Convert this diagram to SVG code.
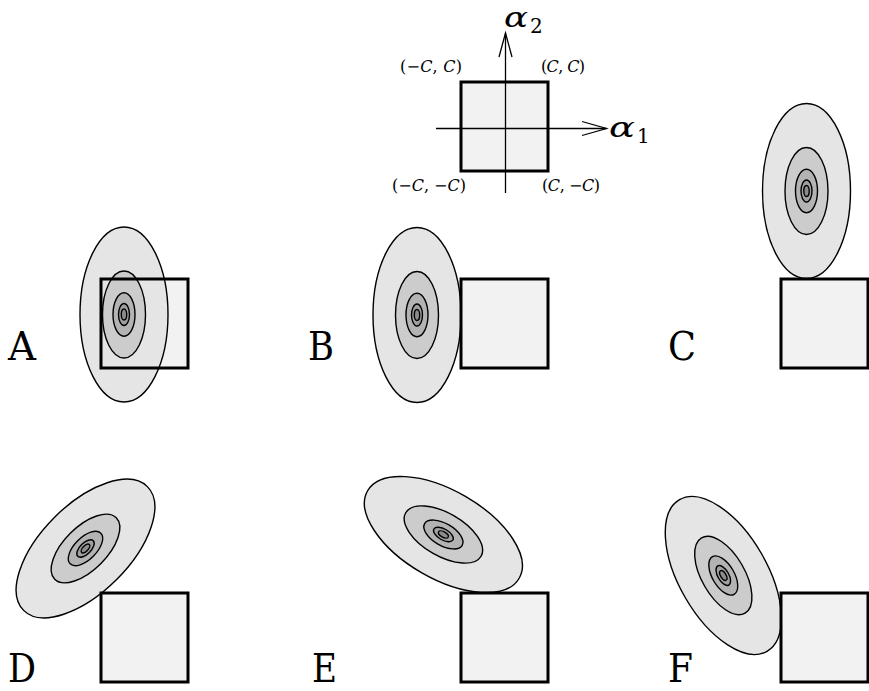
<svg xmlns="http://www.w3.org/2000/svg" xmlns:xlink="http://www.w3.org/1999/xlink" width="869" height="691" viewBox="0 0 869 691">
<style>
.sq{fill:#f2f2f2;stroke:none}
.sqb{fill:none;stroke:#000;stroke-width:3}
.el{stroke:#000;stroke-width:1.4}
.ax{fill:none;stroke:#000;stroke-width:1.3}
text{font-family:"DejaVu Serif","Liberation Serif",serif;fill:#000}
.lbl{font-size:40px}
.cl{font-size:16px}
.it{font-style:italic}
.al{font-style:italic;font-size:28px}
.sub{font-size:20px}
</style>
<defs>
<g id="blob">
<ellipse class="el" cx="0" cy="0" rx="44" ry="87.5" fill="#e5e5e5"/>
<ellipse class="el" cx="0" cy="0" rx="21.5" ry="43.5" fill="#cccccc"/>
<ellipse class="el" cx="0" cy="0" rx="11" ry="21.7" fill="#b3b3b3"/>
<ellipse class="el" cx="0" cy="0" rx="5.5" ry="11" fill="#a0a0a0"/>
<ellipse class="el" cx="0" cy="0" rx="2.7" ry="5.5" fill="#8c8c8c"/>
</g>
</defs>
<rect width="869" height="691" fill="#fff"/>

<g id="axes-panel">
<rect class="sq" x="461" y="82" width="87" height="89"/>
<rect class="sqb" x="461" y="82" width="87" height="89"/>
<text class="cl" x="400" y="72" textLength="62">(−<tspan class="it">C</tspan>, <tspan class="it">C</tspan>)</text>
<text class="cl" x="541" y="72" textLength="44">(<tspan class="it">C</tspan>, <tspan class="it">C</tspan>)</text>
<text class="cl" x="392" y="191" textLength="74">(−<tspan class="it">C</tspan>, −<tspan class="it">C</tspan>)</text>
<text class="cl" x="542" y="191" textLength="58">(<tspan class="it">C</tspan>, −<tspan class="it">C</tspan>)</text>
<text class="al" x="504" y="27" textLength="24" lengthAdjust="spacingAndGlyphs">α</text>
<text class="sub" x="530" y="33">2</text>
<text class="al" x="609" y="137" textLength="26" lengthAdjust="spacingAndGlyphs">α</text>
<text class="sub" x="637" y="143">1</text>
</g>

<g id="connectors">
<line class="ax" x1="505.5" y1="193" x2="505.5" y2="33"/>
<polyline class="ax" points="499,57 505.5,33 512,57"/>
<line class="ax" x1="436" y1="128.5" x2="606.5" y2="128.5"/>
<polyline class="ax" points="582,121.5 606.5,128.5 582,135.5"/>
</g>

<g id="panel-A">
<rect class="sq" x="101" y="279" width="87" height="89"/>
<use xlink:href="#blob" transform="translate(124,314.5)"/>
<rect class="sqb" x="101" y="279" width="87" height="89"/>
<text class="lbl" x="8" y="360" textLength="28" lengthAdjust="spacingAndGlyphs">A</text>
</g>

<g id="panel-B">
<rect class="sq" x="461" y="279" width="87" height="89"/>
<use xlink:href="#blob" transform="translate(417,315)"/>
<rect class="sqb" x="461" y="279" width="87" height="89"/>
<text class="lbl" x="308" y="360" textLength="26" lengthAdjust="spacingAndGlyphs">B</text>
</g>

<g id="panel-C">
<rect class="sq" x="781" y="279" width="87" height="89"/>
<use xlink:href="#blob" transform="translate(806.5,191)"/>
<rect class="sqb" x="781" y="279" width="87" height="89"/>
<text class="lbl" x="668" y="360" textLength="28" lengthAdjust="spacingAndGlyphs">C</text>
</g>

<g id="panel-D">
<rect class="sq" x="101" y="593" width="87" height="89"/>
<use xlink:href="#blob" transform="translate(85.5,548.5) rotate(45)"/>
<rect class="sqb" x="101" y="593" width="87" height="89"/>
<text class="lbl" x="8" y="682" textLength="28" lengthAdjust="spacingAndGlyphs">D</text>
</g>

<g id="panel-E">
<rect class="sq" x="461" y="593" width="87" height="89"/>
<use xlink:href="#blob" transform="translate(443.4,534.5) rotate(-60)"/>
<rect class="sqb" x="461" y="593" width="87" height="89"/>
<text class="lbl" x="312" y="682" textLength="25" lengthAdjust="spacingAndGlyphs">E</text>
</g>

<g id="panel-F">
<rect class="sq" x="781" y="593" width="87" height="89"/>
<use xlink:href="#blob" transform="translate(723.3,575.5) rotate(-30)"/>
<rect class="sqb" x="781" y="593" width="87" height="89"/>
<text class="lbl" x="668" y="682" textLength="25" lengthAdjust="spacingAndGlyphs">F</text>
</g>
</svg>
